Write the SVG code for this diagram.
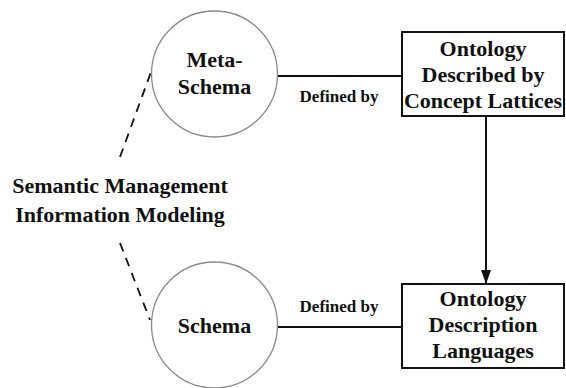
<svg xmlns="http://www.w3.org/2000/svg" width="566" height="388" viewBox="0 0 566 388">
<style>
text{font-family:"Liberation Serif","Times New Roman",serif;font-weight:bold;fill:#111;text-anchor:middle}
.big{font-size:22px}
.lbl{font-size:17px}
.circ{fill:#fff;stroke:#8a8a8a;stroke-width:1.3}
.box{fill:#fff;stroke:#111;stroke-width:2}
.ln{stroke:#111;stroke-width:2;fill:none}
.dash{stroke:#111;stroke-width:1.8;fill:none;stroke-dasharray:9,7}
</style>
<defs>
<marker id="arr" markerWidth="15" markerHeight="12" refX="14" refY="6" orient="auto" markerUnits="userSpaceOnUse">
<path d="M0,1 L14,6 L0,11 Z" fill="#111"/>
</marker>
</defs>
<g id="connectors">
<line class="dash" x1="120" y1="157" x2="151" y2="72"/>
<line class="dash" x1="120" y1="243" x2="150" y2="320"/>
<line class="ln" x1="277" y1="76" x2="402" y2="76"/>
<line class="ln" x1="277" y1="327" x2="402" y2="327"/>
<line class="ln" x1="486" y1="116" x2="486" y2="284" marker-end="url(#arr)"/>
<text class="lbl" x="339" y="102">Defined by</text>
<text class="lbl" x="339" y="312">Defined by</text>
</g>
<g id="smim">
<text class="big" x="120" y="193">Semantic Management</text>
<text class="big" x="120" y="222">Information Modeling</text>
</g>
<g id="metaschema">
<circle class="circ" cx="214.5" cy="74" r="63"/>
<text class="big" x="214.5" y="67">Meta-</text>
<text class="big" x="214.5" y="94">Schema</text>
</g>
<g id="schema">
<circle class="circ" cx="214.5" cy="325" r="63"/>
<text class="big" x="214.5" y="333">Schema</text>
</g>
<g id="ontology-lattices">
<rect class="box" x="402" y="32" width="162" height="84"/>
<text class="big" x="483" y="56">Ontology</text>
<text class="big" x="483" y="82">Described by</text>
<text class="big" x="483" y="108">Concept Lattices</text>
</g>
<g id="ontology-languages">
<rect class="box" x="402" y="284" width="162" height="84"/>
<text class="big" x="483" y="306">Ontology</text>
<text class="big" x="483" y="332">Description</text>
<text class="big" x="483" y="358">Languages</text>
</g>
</svg>
